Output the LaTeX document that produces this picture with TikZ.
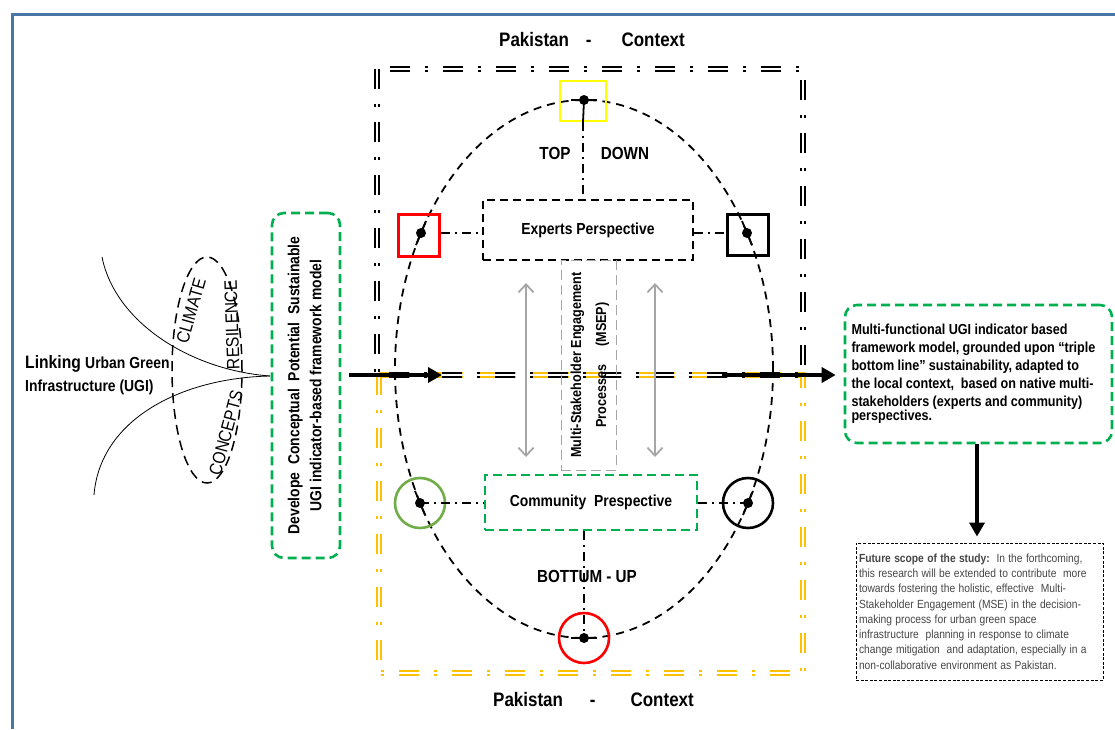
\documentclass[tikz,border=0pt]{standalone}
\usepackage{fontspec}
\setmainfont{Liberation Sans}[FakeStretch=0.87]
\usetikzlibrary{arrows.meta}
\definecolor{frameblue}{RGB}{74,118,166}
\definecolor{ugreen}{RGB}{0,176,80}
\definecolor{lgreen}{RGB}{112,173,71}
\definecolor{uyellow}{RGB}{255,192,0}
\definecolor{sqyellow}{RGB}{255,255,0}
\definecolor{agray}{RGB}{166,166,166}
\definecolor{tgray}{RGB}{70,70,70}
\tikzset{
  ddblack/.style={draw=black, line width=1.7pt, double=white, double distance=1.7pt,
    dash pattern=on 20pt off 15pt on 3pt off 15pt},
  ddyellow/.style={draw=uyellow, line width=2.1pt, double=white, double distance=1.2pt,
    dash pattern=on 20pt off 15pt on 3pt off 15pt},
  dashdot/.style={draw=black, line width=1.4pt, dash pattern=on 9pt off 5pt on 2pt off 5pt},
  elldash/.style={draw=black, line width=1.8pt, dash pattern=on 8pt off 6pt},
  tangent/.style={draw=black, line width=1.8pt},
  dotn/.style={circle, fill=black, inner sep=0pt, minimum size=10pt},
  greenbox/.style={draw=ugreen, line width=2.6pt, dash pattern=on 9pt off 5pt, rounded corners=12pt},
  bigarrow/.style={draw=black, line width=3.5pt, -{Triangle[length=14pt,width=15pt]}},
  grayarrow/.style={draw=agray, line width=1.8pt, {Straight Barb[length=8pt,width=15pt]}-{Straight Barb[length=8pt,width=15pt]}},
  txt/.style={inner sep=0pt, text=black},
}
\begin{document}
\begin{tikzpicture}[x=1pt,y=-1pt]
\useasboundingbox (0,0) rectangle (1115,729);
% outer frame
\draw[frameblue, line width=3pt] (12.5,729) -- (12.5,14.5) -- (1115,14.5);

% context boxes
\draw[ddyellow] (379,375) rectangle (803,673);
\draw[ddblack] (377,69) rectangle (803,375);

% left part
\node[txt, anchor=west] (link1) at (25,364) {\fontsize{18}{20}\selectfont\bfseries Linking \fontsize{16}{18}\selectfont Urban Green};
\node[txt, anchor=west] (link2) at (25,387) {\fontsize{16}{18}\selectfont\bfseries Infrastructure (UGI)};
\coordinate (cu) at (102,257);
\coordinate (cm) at (270,376);
\coordinate (cl) at (94,495);
\draw[line width=0.8pt] (cu) .. controls (115,322) and (190,370) .. (cm);
\draw[line width=0.8pt] (cm) .. controls (180,378) and (100,420) .. (cl);
\draw[draw=black, line width=1.5pt, dash pattern=on 10pt off 6pt] (207,370) ellipse [x radius=35pt, y radius=113pt];
\node[txt, rotate=74] (climate) at (191,311) {\fontsize{18}{19}\selectfont CLIMATE};
\node[txt, rotate=92] (resil) at (232,325) {\fontsize{18}{19}\selectfont RESILENCE};
\node[txt, rotate=75] (conc) at (226,433) {\fontsize{18}{19}\selectfont CONCEPTS};

% develop box
\node[greenbox, minimum width=68pt, minimum height=345pt, inner sep=0pt] (dev) at (306,385.5)
  {\rotatebox{90}{\fontsize{16}{22}\selectfont\bfseries\begin{tabular}{@{}c@{}}Develope\ \ Conceptual\ \ Potential\ \ Sustainable\\[0pt] UGI indicator-based framework model\end{tabular}}};

% big ellipse
\draw[elldash] (584,369) ellipse [x radius=189pt, y radius=269pt];

% dots on ellipse
\coordinate (ydot) at (584,100);
\coordinate (rdot) at (421,233);
\coordinate (bdot) at (747,233);
\coordinate (gdot) at (420,503);
\coordinate (kdot) at (748,503);
\coordinate (rdot2) at (584,638);

% squares and circles
\node[draw=sqyellow, line width=2.8pt, minimum width=46pt, minimum height=40pt, inner sep=0pt] (ysq) at (583,101) {};
\node[draw=red, line width=3pt, minimum width=41pt, minimum height=42pt, inner sep=0pt] (rsq) at (419,235.5) {};
\node[draw=black, line width=3pt, minimum width=41pt, minimum height=41pt, inner sep=0pt] (bsq) at (748,235) {};
\node[draw=lgreen, circle, line width=2.6pt, minimum size=50pt, inner sep=0pt] (gcirc) at (gdot) {};
\node[draw=black, circle, line width=2.6pt, minimum size=50pt, inner sep=0pt] (kcirc) at (kdot) {};
\node[draw=red, circle, line width=2.6pt, minimum size=50pt, inner sep=0pt] (rcirc) at (rdot2) {};

% tangent strokes
\draw[tangent] ([xshift=-13pt]ydot) -- ([xshift=13pt]ydot);
\draw[tangent] (ydot) -- (ysq.south);
\draw[tangent] ([shift={(5,-12)}]rdot) -- ([shift={(-5,12)}]rdot);
\draw[tangent] ([shift={(-5,-12)}]bdot) -- ([shift={(5,12)}]bdot);
\draw[tangent] ([shift={(-5,-12)}]gdot) -- ([shift={(5,12)}]gdot);
\draw[tangent] ([shift={(5,-12)}]kdot) -- ([shift={(-5,12)}]kdot);
\draw[tangent] ([xshift=-13pt]rdot2) -- ([xshift=13pt]rdot2);

% perspective boxes
\node[draw=black, line width=1.7pt, dash pattern=on 8pt off 5pt, minimum width=210pt, minimum height=60pt, inner sep=0pt] (exp) at (588,230)
  {\fontsize{16}{18}\selectfont\bfseries Experts Perspective};
\node[draw=agray, line width=1pt, dash pattern=on 10pt off 5pt, minimum width=55pt, minimum height=210pt, inner sep=0pt] (msep) at (588.5,365)
  {\rotatebox{90}{\fontsize{14.5}{25}\selectfont\bfseries\begin{tabular}{@{}c@{}}Multi-Stakeholder Engagement\\ Processes\quad\ (MSEP)\end{tabular}}};
\node[draw=ugreen, line width=2.8pt, dash pattern=on 9pt off 5pt, minimum width=212pt, minimum height=55pt, inner sep=0pt] (com) at (591,502.5)
  {\fontsize{16}{18}\selectfont\bfseries Community\ \ Prespective};

% dash-dot connectors
\draw[dashdot] (ysq.south) -- (ysq.south |- exp.north);
\draw[dashdot] (rsq.east |- rdot) -- (exp.west |- rdot);
\draw[dashdot] (exp.east |- bdot) -- (bsq.west |- bdot);
\draw[dashdot] (gdot) -- (com.west |- gdot);
\draw[dashdot] (com.east |- kdot) -- (kdot);
\draw[dashdot] (com.south -| rdot2) -- (rdot2);

\node[dotn] (yd) at (ydot) {};
\node[dotn] (rd) at (rdot) {};
\node[dotn] (bd) at (bdot) {};
\node[dotn] (gd) at (gdot) {};
\node[dotn] (kd) at (kdot) {};
\node[dotn] (rd2) at (rdot2) {};

% labels
\node[txt] (top) at (555,153) {\fontsize{17.5}{19}\selectfont\bfseries TOP};
\node[txt] (down) at (625,153) {\fontsize{17.5}{19}\selectfont\bfseries DOWN};
\node[txt] (bu) at (587,576) {\fontsize{17.5}{19}\selectfont\bfseries BOTTUM - UP};
\node[txt, anchor=west] (pk1) at (499,40) {\fontsize{19.5}{21}\selectfont\bfseries Pakistan\hspace{17pt}-\hspace{30pt}Context};
\node[txt, anchor=west] (pk2) at (493,700) {\fontsize{19.5}{21}\selectfont\bfseries Pakistan\hspace{27pt}-\hspace{35pt}Context};

% gray arrows
\coordinate (g1a) at (526,283); \coordinate (g1b) at (526,457);
\coordinate (g2a) at (655,283); \coordinate (g2b) at (655,457);
\draw[grayarrow] (g1a) -- (g1b);
\draw[grayarrow] (g2a) -- (g2b);

% right boxes
\node[greenbox, minimum width=267pt, minimum height=138pt, text width=254pt, inner xsep=6.5pt, inner ysep=0pt, align=left] (mf) at (978.5,374)
  {\fontsize{14.5}{17.9}\selectfont\bfseries Multi-functional UGI indicator based\\ framework model, grounded upon “triple\\ bottom line” sustainability, adapted to\\ the local context,\ \ based on native multi-\\ stakeholders (experts and community)\\ perspectives.};
\node[draw=black, line width=0.9pt, dash pattern=on 3pt off 1.6pt, minimum width=247pt, minimum height=137pt, text width=241pt, inner xsep=3pt, inner ysep=0pt, align=left, text=tgray] (fut) at (979.5,611.5)
  {\fontsize{11.8}{15.3}\selectfont\textbf{Future scope of the study:}\ \ In the forthcoming,\\ this research will be extended to contribute\ \ more\\ towards fostering the holistic, effective\ \ Multi-\\ Stakeholder Engagement (MSE) in the decision-\\ making process for urban green space\\ infrastructure\ \ planning in response to climate\\ change mitigation\ \ and adaptation, especially in a\\ non-collaborative environment as Pakistan.\\[2pt]};

% main arrows
\coordinate (mA) at (442,375);
\coordinate (mB) at (722,375);
\draw[bigarrow, shorten <=8pt] (dev.east |- mA) -- (mA);
\draw[bigarrow, line width=4pt, shorten >=8pt] (mB) -- (mf.west |- mB);
\draw[bigarrow, line width=4pt, shorten >=6pt] (mf.south -| 977,0) -- (fut.north -| 977,0);
\end{tikzpicture}
\end{document}
